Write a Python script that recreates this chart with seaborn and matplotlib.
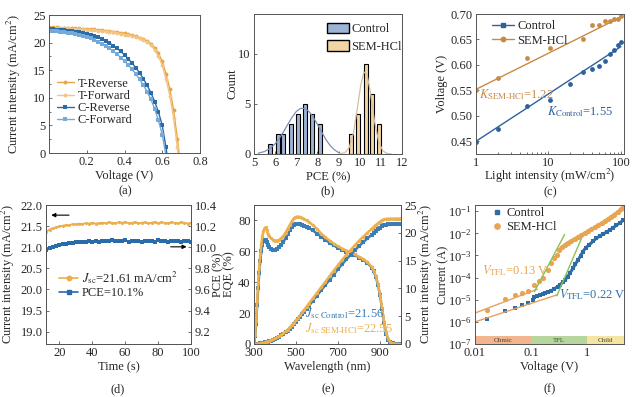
import numpy as np
import pandas as pd
import matplotlib
matplotlib.use("Agg")
import matplotlib.pyplot as plt
from matplotlib.lines import Line2D
from matplotlib.patches import Patch
from matplotlib.ticker import AutoMinorLocator
import seaborn as sns

sns.set_theme(style="ticks")
plt.rcParams["font.family"] = ["Liberation Serif", "DejaVu Serif"]
plt.rcParams["mathtext.fontset"] = "stix"
FS = 9
plt.rcParams["font.size"] = FS
plt.rcParams["axes.labelsize"] = FS
plt.rcParams["xtick.labelsize"] = FS
plt.rcParams["ytick.labelsize"] = FS
plt.rcParams["xtick.direction"] = "in"
plt.rcParams["ytick.direction"] = "in"
plt.rcParams["axes.edgecolor"] = "#555555"
plt.rcParams["axes.linewidth"] = 0.7

# ---- (a) J-V curves
volt = [0.00, 0.02, 0.04, 0.06, 0.08, 0.10, 0.12, 0.14, 0.16, 0.18, 0.20, 0.22, 0.24, 0.26, 0.28,
        0.30, 0.32, 0.34, 0.36, 0.38, 0.40, 0.42, 0.44, 0.46, 0.48, 0.50, 0.52, 0.54, 0.56, 0.58,
        0.60, 0.62, 0.64, 0.66, 0.68, 0.70]
t_rev = [22.80, 22.78, 22.75, 22.72, 22.70, 22.67, 22.63, 22.60, 22.56, 22.52, 22.48, 22.44, 22.38,
         22.32, 22.25, 22.18, 22.10, 22.00, 21.90, 21.78, 21.65, 21.50, 21.33, 21.14, 20.92, 20.66,
         20.30, 19.80, 19.10, 18.10, 16.60, 14.30, 11.60, 7.80, 2.60, -3.50]
t_fwd = [22.70, 22.68, 22.65, 22.62, 22.59, 22.56, 22.52, 22.48, 22.44, 22.40, 22.35, 22.30, 22.24,
         22.17, 22.10, 22.02, 21.93, 21.83, 21.72, 21.60, 21.46, 21.31, 21.14, 20.95, 20.75, 20.48,
         20.10, 19.50, 18.70, 17.50, 15.90, 13.40, 10.40, 6.40, 1.00, -5.00]
c_rev = [22.45, 22.40, 22.35, 22.30, 22.24, 22.17, 22.10, 22.00, 21.90, 21.78, 21.63, 21.45, 21.23,
         20.97, 20.67, 20.32, 19.92, 19.47, 18.97, 18.40, 17.77, 17.07, 16.30, 15.45, 14.50, 13.45,
         12.25, 10.90, 9.30, 7.40, 5.00, 1.00, -4.00, None, None, None]
c_fwd = [22.15, 22.10, 22.03, 21.96, 21.88, 21.79, 21.68, 21.55, 21.40, 21.22, 21.00, 20.75, 20.47,
         20.15, 19.80, 19.40, 18.95, 18.45, 17.90, 17.30, 16.65, 15.93, 15.15, 14.30, 13.35, 12.30,
         11.10, 9.70, 8.00, 5.90, 3.30, -0.50, None, None, None, None]

# ---- (b) PCE histogram + gaussian fits
ctrl_pce = [5.76, 6.14, 6.39, 6.77, 7.10, 7.42, 7.75, 8.10]
ctrl_cnt = [1, 2, 2, 3, 4, 5, 4, 3]
sem_pce = [9.59, 9.92, 10.28, 10.57, 10.93]
sem_cnt = [2, 4, 9, 6, 3]
ctrl_fit_x = [5.2, 5.5, 5.8, 6.0, 6.2, 6.4, 6.6, 6.8, 7.0, 7.2, 7.4, 7.6, 7.8, 8.0, 8.2, 8.4, 8.6, 8.8, 9.0]
ctrl_fit_y = [0.08, 0.25, 0.62, 1.02, 1.57, 2.24, 2.97, 3.68, 4.25, 4.56, 4.56, 4.25, 3.68, 2.97,
              2.20, 1.45, 0.85, 0.42, 0.15]
sem_fit_x = [9.0, 9.3, 9.5, 9.7, 9.9, 10.05, 10.2, 10.35, 10.5, 10.7, 10.9, 11.1, 11.3, 11.5]
sem_fit_y = [0.02, 0.13, 0.63, 2.07, 4.73, 6.90, 8.20, 7.93, 6.23, 3.28, 1.19, 0.30, 0.05, 0.0]

# ---- (c) Voc vs light intensity
light = [1, 2, 5, 10.5, 20, 30, 40, 50, 60, 70, 80, 90, 100]
voc_ctrl = [0.449, 0.474, 0.519, 0.532, 0.562, 0.586, 0.591, 0.598, 0.607, 0.622, 0.630, 0.639, 0.645]
voc_sem = [0.551, 0.574, 0.613, 0.633, None, 0.651, 0.678, 0.679, 0.686, 0.687, 0.690, 0.690, 0.697]
fit_light = [1, 100]
fit_ctrl = [0.450, 0.636]
fit_sem = [0.552, 0.694]

# ---- (d) stabilized output
time_s = [10, 12, 14, 16, 18, 20, 22, 24, 26, 28, 30, 32, 34, 36, 38, 40, 42, 44, 46, 48, 50, 52, 54,
          56, 58, 60, 62, 64, 66, 68, 70, 72, 74, 76, 78, 80, 82, 84, 86, 88, 90, 92, 94, 96, 98, 100]
jsc_t = [21.30, 21.37, 21.42, 21.45, 21.47, 21.50, 21.51, 21.53, 21.52, 21.55, 21.54, 21.56, 21.55,
         21.57, 21.56, 21.58, 21.56, 21.57, 21.58, 21.57, 21.59, 21.58, 21.57, 21.59, 21.58, 21.60,
         21.57, 21.58, 21.59, 21.57, 21.58, 21.59, 21.57, 21.58, 21.60, 21.57, 21.59, 21.58, 21.57,
         21.59, 21.58, 21.57, 21.59, 21.58, 21.56, 21.58]
pce_t = [9.95, 9.97, 9.99, 10.00, 10.01, 10.02, 10.03, 10.03, 10.04, 10.04, 10.045, 10.05, 10.045,
         10.05, 10.055, 10.05, 10.055, 10.05, 10.06, 10.055, 10.06, 10.065, 10.055, 10.06, 10.055,
         10.065, 10.05, 10.06, 10.055, 10.06, 10.05, 10.06, 10.055, 10.06, 10.05, 10.065, 10.055,
         10.06, 10.05, 10.06, 10.055, 10.06, 10.05, 10.055, 10.06, 10.05]

# ---- (e) EQE + integrated Jsc
wl = [300, 305, 310, 315, 320, 325, 330, 335, 340, 345, 350, 355, 360, 365, 370,
      380, 390, 400, 410, 420, 430, 440, 450, 460, 470, 480, 490, 500, 510, 520, 530, 540, 550, 560,
      580, 600, 620, 640, 660, 680, 700, 720, 740, 760, 780, 800, 820, 840,
      860,
      870, 880, 890, 900, 910, 920, 930, 940, 950, 960, 970, 980, 990, 1000]
eqe_sem = [1, 6, 15, 28, 40, 50, 58, 65, 70, 73, 75, 75.5, 74, 71.5, 70,
           68.5, 67.5, 67, 67, 67.5, 68.5, 70, 72, 74.5, 77, 79.5, 81.5, 82.3, 82.5, 82.2, 81.6, 80.8, 80, 79,
           77, 74.5, 71.5, 69, 67, 65, 63.3, 61.8, 60.5, 59.3, 58, 56.5, 55, 53,
           50,
           47.5, 44, 39, 32, 23, 14, 7, 3, 1.2, 0.5, 0.2, 0.1, 0.05, 0]
eqe_ctrl = [1, 5, 13, 25, 36, 46, 54, 60, 64, 66.5, 67.5, 67.5, 66, 64, 62.5,
            61.5, 61, 61, 61.5, 62.5, 64, 66, 68.5, 71, 73.5, 75.5, 77, 77.8, 78, 77.7, 77.2, 76.6, 76, 75.2,
            73.5, 71.5, 69.5, 67.5, 65.5, 63.8, 62.2, 60.8, 59.6, 58.6, 57.5, 56, 54.5, 52.5,
            49.5,
            47, 43.5, 38.5, 31.5, 22.5, 13.5, 6.5, 2.8, 1.1, 0.5, 0.2, 0.1, 0.05, 0]
jint_sem = [0, 0.01, 0.02, 0.04, 0.06, 0.09, 0.12, 0.16, 0.2, 0.25, 0.3, 0.36, 0.42, 0.48, 0.55,
            0.68, 0.83, 1.0, 1.2, 1.42, 1.67, 1.95, 2.26, 2.6, 2.97, 3.37, 3.8, 4.25, 4.72, 5.2, 5.7, 6.2, 6.7, 7.2,
            8.2, 9.2, 10.2, 11.2, 12.2, 13.2, 14.2, 15.15, 16.05, 16.9, 17.75, 18.55, 19.3, 20.0,
            20.7,
            21.05, 21.4, 21.7, 22.0, 22.25, 22.42, 22.5, 22.54, 22.55, 22.55, 22.55, 22.55, 22.55, 22.55]
jint_ctrl = [0, 0.01, 0.02, 0.04, 0.06, 0.08, 0.11, 0.14, 0.18, 0.22, 0.27, 0.32, 0.38, 0.44, 0.5,
             0.62, 0.76, 0.92, 1.1, 1.3, 1.53, 1.79, 2.08, 2.4, 2.75, 3.13, 3.53, 3.96, 4.41, 4.87, 5.35, 5.83, 6.31, 6.79,
             7.75, 8.7, 9.65, 10.6, 11.55, 12.5, 13.45, 14.35, 15.22, 16.05, 16.85, 17.6, 18.3, 18.98,
             19.65,
             19.98, 20.3, 20.6, 20.9, 21.15, 21.35, 21.48, 21.53, 21.55, 21.56, 21.56, 21.56, 21.56, 21.56]

# ---- (f) SCLC dark I-V
ctrl_v = [0.0167, 0.0346, 0.052, 0.069, 0.087, 0.107, 0.115, 0.13, 0.145, 0.162, 0.18, 0.2, 0.229,
          0.26, 0.30, 0.33, 0.37, 0.41, 0.45, 0.5, 0.56, 0.62, 0.69, 0.77, 0.85, 0.95, 1.11, 1.28,
          1.47, 1.7, 1.94, 2.25, 2.56, 2.95, 3.37, 3.9, 4.5]
ctrl_i = [1.4e-6, 3.2e-6, 4.3e-6, 6.0e-6, 7.4e-6, 1.0e-5, 1.36e-5, 1.5e-5, 1.65e-5, 1.8e-5, 2.1e-5,
          2.3e-5, 2.5e-5, 3.1e-5, 3.9e-5, 4.8e-5, 6e-5, 8e-5, 1.1e-4, 1.6e-4, 2.6e-4, 4e-4, 6.1e-4,
          9.5e-4, 1.5e-3, 2.2e-3, 3.1e-3, 4.3e-3, 5.9e-3, 7.5e-3, 9.2e-3, 1.15e-2, 1.4e-2, 1.8e-2,
          2.3e-2, 3.0e-2, 3.9e-2]
sem_v = [0.0162, 0.0346, 0.052, 0.069, 0.087, 0.115, 0.14, 0.167, 0.20, 0.23, 0.26, 0.29, 0.32, 0.36,
         0.40, 0.45, 0.52, 0.6, 0.69, 0.8, 0.91, 1.05, 1.2, 1.4, 1.6, 1.85, 2.1, 2.4, 2.7, 3.1, 3.6,
         4.1, 4.6]
sem_i = [3.4e-6, 1.07e-5, 1.6e-5, 2.0e-5, 2.6e-5, 4.6e-5, 7e-5, 1e-4, 2.2e-4, 4.4e-4, 7.3e-4, 1.1e-3,
         1.75e-3, 2.3e-3, 2.9e-3, 3.6e-3, 4.4e-3, 5.5e-3, 6.7e-3, 8.3e-3, 1.0e-2, 1.22e-2, 1.5e-2,
         1.85e-2, 2.3e-2, 2.85e-2, 3.5e-2, 4.4e-2, 5.5e-2, 7.0e-2, 9.3e-2, 1.25e-1, 1.7e-1]
sem_ohm_v, sem_ohm_i = [0.01, 0.13], [2.5e-6, 3.0e-5]
ctrl_ohm_v, ctrl_ohm_i = [0.01, 0.30], [1.0e-6, 1.7e-5]
sem_tfl_v, sem_tfl_i = [0.115, 0.40], [2.3e-5, 8.9e-3]
ctrl_tfl_v, ctrl_tfl_i = [0.29, 0.80], [1.5e-5, 5.9e-3]
regions = ["Ohmic", "TFL", "Child"]
region_edges = [0.01, 0.1, 1.0, 4.6]

ORANGE = "#E9A540"
ORANGE_L = "#F0C586"
BLUE = "#2A6BAA"
BLUE_L = "#74A9D8"

W, H = 640, 397
fig = plt.figure(figsize=(6.4, 3.97), dpi=100)


def add_ax(l, r, t, b):
    return fig.add_axes([l / W, 1 - b / H, (r - l) / W, (b - t) / H])


leg_kw = dict(frameon=False, labelspacing=0.2, handletextpad=0.3, fontsize=FS, borderaxespad=0.2)

# (a)
ax = add_ax(49, 200, 15, 153)
jv = pd.DataFrame({"V": volt, "T-Reverse": t_rev, "T-Forward": t_fwd,
                   "C-Reverse": c_rev, "C-Forward": c_fwd}).astype(float)
styles = [("T-Reverse", ORANGE, "o"), ("T-Forward", ORANGE_L, "o"),
          ("C-Reverse", BLUE, "s"), ("C-Forward", BLUE_L, "s")]
for name, col, mk in styles:
    sub = jv[["V", name]].dropna()
    sns.lineplot(x=sub["V"], y=sub[name], ax=ax, color=col, marker=mk, markersize=2.8,
                 markeredgewidth=0, lw=1.0, label=name, sort=False)
ax.set_xlim(0, 0.8)
ax.set_ylim(0, 25)
ax.set_xticks([0.2, 0.4, 0.6, 0.8])
ax.set_yticks([0, 5, 10, 15, 20, 25])
ax.yaxis.set_minor_locator(AutoMinorLocator(2))
ax.set_xlabel("Voltage (V)", labelpad=1)
ax.set_ylabel("Current intensity (mA/cm$^2$)")
ax.yaxis.set_label_coords(-0.17, 0.5)
ax.legend(loc="upper left", bbox_to_anchor=(0.0, 0.6), handlelength=1.4,
          **dict(leg_kw, labelspacing=0.02))

# (b)
ax = add_ax(254, 402, 14, 154)
ax.bar(ctrl_pce, ctrl_cnt, width=0.19, color="#9DB3D6", edgecolor="black", linewidth=0.8)
ax.bar(sem_pce, sem_cnt, width=0.19, color="#F3D5A5", edgecolor="black", linewidth=0.8)
sns.lineplot(x=ctrl_fit_x, y=ctrl_fit_y, ax=ax, color="#7F8FB5", lw=0.9)
sns.lineplot(x=sem_fit_x, y=sem_fit_y, ax=ax, color="#D5BF9F", lw=0.9)
ax.set_xlim(5, 12)
ax.set_ylim(0, 14)
ax.set_xticks(range(5, 13))
ax.set_yticks([0, 5, 10])
ax.set_xlabel("PCE (%)", labelpad=1)
ax.set_ylabel("Count")
ax.yaxis.set_label_coords(-0.105, 0.5)
ax.legend(handles=[Patch(facecolor="#9DB3D6", edgecolor="black", label="Control"),
                   Patch(facecolor="#F3D5A5", edgecolor="black", label="SEM-HCl")],
          loc="upper left", bbox_to_anchor=(0.44, 0.99), handlelength=1.8, handleheight=0.9,
          **dict(leg_kw, labelspacing=0.4, handletextpad=0.2))

# (c)
ax = add_ax(476, 624, 14, 154)
C_BLUE, C_OR = "#2F609E", "#C98A45"
sns.scatterplot(x=light, y=voc_ctrl, ax=ax, color=C_BLUE, marker="o", s=12, linewidth=0)
sns.scatterplot(x=light, y=voc_sem, ax=ax, color=C_OR, marker="o", s=12, linewidth=0)
sns.lineplot(x=fit_light, y=fit_ctrl, ax=ax, color=C_BLUE, lw=1.0)
sns.lineplot(x=fit_light, y=fit_sem, ax=ax, color=C_OR, lw=1.0)
ax.set_xscale("log")
ax.set_xlim(1, 110)
ax.set_ylim(0.425, 0.70)
ax.set_xticks([1, 10, 100])
ax.set_xticklabels(["1", "10", "100"])
ax.set_yticks([0.45, 0.50, 0.55, 0.60, 0.65, 0.70])
ax.set_yticklabels(["0.45", "0.50", "0.55", "0.60", "0.65", "0.70"])
ax.set_xlabel("Light intensity (mW/cm$^2$)", labelpad=-1.5)
ax.set_ylabel("Voltage (V)")
ax.yaxis.set_label_coords(-0.19, 0.5)
ax.text(1.1, 0.541, "$K_{\\mathrm{SEM\u2010HCl}}$=1.22", color=C_OR, fontsize=FS, va="center")
ax.text(9.6, 0.508, r"$K_{\mathrm{Control}}$=1.55", color=C_BLUE, fontsize=FS, va="center")
ax.legend(handles=[Line2D([], [], color=C_BLUE, marker="s", ms=3.2, lw=1.0, label="Control"),
                   Line2D([], [], color=C_OR, marker="o", ms=3.2, lw=1.0, label="SEM-HCl")],
          loc="upper left", bbox_to_anchor=(0.06, 1.01), handlelength=1.7, **leg_kw)

# (d)
ax = add_ax(46, 191, 205, 344)
ax2 = ax.twinx()
D_OR, D_BLUE = "#EBAE4C", "#2A6BAA"
sns.lineplot(x=time_s, y=jsc_t, ax=ax, color=D_OR, marker="o", markersize=2.2,
             markeredgewidth=0, lw=1.3)
sns.lineplot(x=time_s, y=pce_t, ax=ax2, color=D_BLUE, marker="s", markersize=2.2,
             markeredgewidth=0, lw=1.3)
ax.set_xlim(11.8, 100)
ax.set_ylim(18.71, 22.0)
ax2.set_ylim(9.084, 10.4)
ax.set_xticks([20, 40, 60, 80, 100])
ax.set_yticks([19.0, 19.5, 20.0, 20.5, 21.0, 21.5, 22.0])
ax.set_yticklabels(["19.0", "19.5", "20.0", "20.5", "21.0", "21.5", "22.0"])
ax2.set_yticks([9.2, 9.4, 9.6, 9.8, 10.0, 10.2, 10.4])
ax2.set_yticklabels(["9.2", "9.4", "9.6", "9.8", "10.0", "10.2", "10.4"])
ax.set_xlabel("Time (s)", labelpad=1)
ax.set_ylabel("Current intensity (mA/cm$^2$)")
ax.yaxis.set_label_coords(-0.2, 0.5)
ax2.set_ylabel("PCE (%)")
ax2.yaxis.set_label_coords(1.145, 0.5)
ax.annotate("", xy=(13.3, 21.76), xytext=(27.5, 21.76),
            arrowprops=dict(arrowstyle="-|>", color="black", lw=0.8, mutation_scale=6))
ax.annotate("", xy=(99.0, 21.01), xytext=(86.0, 21.01),
            arrowprops=dict(arrowstyle="-|>", color="black", lw=0.8, mutation_scale=6))
ax.legend(handles=[Line2D([], [], color=D_OR, marker="o", ms=3.2, lw=1.2,
                          label=r"$J_{\mathrm{sc}}$=21.61 mA/cm$^2$"),
                   Line2D([], [], color=D_BLUE, marker="s", ms=3.2, lw=1.2, label="PCE=10.1%")],
          loc="upper left", bbox_to_anchor=(0.04, 0.59), handlelength=1.5,
          **dict(leg_kw, labelspacing=0.05))

# (e)
ax = add_ax(254, 401, 205, 344)
ax2 = ax.twinx()
E_OR, E_BLUE = "#EDB04C", "#3A7DB8"
sns.lineplot(x=wl, y=eqe_ctrl, ax=ax, color=E_BLUE, marker="s", markersize=2.4,
             markeredgewidth=0, lw=1.8)
sns.lineplot(x=wl, y=eqe_sem, ax=ax, color=E_OR, marker="o", markersize=2.4,
             markeredgewidth=0, lw=1.8)
sns.lineplot(x=wl, y=jint_ctrl, ax=ax2, color=E_BLUE, marker="s", markersize=2.4,
             markeredgewidth=0, lw=1.8)
sns.lineplot(x=wl, y=jint_sem, ax=ax2, color=E_OR, marker="o", markersize=2.4,
             markeredgewidth=0, lw=1.8)
ax.set_xlim(300, 1000)
ax.set_ylim(0, 90)
ax2.set_ylim(0, 25)
ax.set_xticks([300, 500, 700, 900])
ax.set_yticks([0, 20, 40, 60, 80])
ax2.set_yticks([0, 5, 10, 15, 20, 25])
ax.set_xlabel("Wavelength (nm)", labelpad=1)
ax.set_ylabel("EQE (%)")
ax.yaxis.set_label_coords(-0.125, 0.5)
ax2.set_ylabel("Current intensity (mA/cm$^2$)")
ax2.yaxis.set_label_coords(1.11, 0.5)
ax.text(542, 19.8, r"$J_{\mathrm{sc\ Control}}$=21.56", color=E_BLUE, fontsize=FS, va="center")
ax.text(542, 10.1, "$J_{\\mathrm{sc\\ SEM\u2010HCl}}$=22.55", color=E_OR, fontsize=FS, va="center")

# (f)
ax = add_ax(475, 624, 205, 344)
F_OR, F_BLUE = "#E9A450", "#2D6DA6"
band_cols = ["#F2B58E", "#B7D69C", "#F5E4A2"]
for name, lo, hi, col in zip(regions, region_edges[:-1], region_edges[1:], band_cols):
    ax.axvspan(lo, hi, ymin=0, ymax=0.055, color=col, lw=0)
    ax.text(np.sqrt(lo * hi), 1.45e-7, name, fontsize=5, ha="center", va="center", color="#444444")
sns.lineplot(x=ctrl_v[6:], y=ctrl_i[6:], ax=ax, color=F_BLUE, lw=2.2)
sns.lineplot(x=sem_v[12:], y=sem_i[12:], ax=ax, color=F_OR, lw=2.6)
sns.scatterplot(x=ctrl_v, y=ctrl_i, ax=ax, color=F_BLUE, marker="s", s=9, linewidth=0)
sns.scatterplot(x=sem_v, y=sem_i, ax=ax, color=F_OR, marker="o", s=14, linewidth=0)
sns.lineplot(x=sem_ohm_v, y=sem_ohm_i, ax=ax, color="#E8A060", lw=1.0)
sns.lineplot(x=ctrl_ohm_v, y=ctrl_ohm_i, ax=ax, color="#E8A060", lw=1.0)
sns.lineplot(x=sem_tfl_v, y=sem_tfl_i, ax=ax, color="#8CC055", lw=1.0)
sns.lineplot(x=ctrl_tfl_v, y=ctrl_tfl_i, ax=ax, color="#8CC055", lw=1.0)
ax.set_xscale("log")
ax.set_yscale("log")
ax.set_xlim(0.01, 4.6)
ax.set_ylim(1e-7, 0.19)
ax.set_xticks([0.01, 0.1, 1])
ax.set_xticklabels(["0.01", "0.1", "1"])
ax.set_yticks([1e-7, 1e-6, 1e-5, 1e-4, 1e-3, 1e-2, 1e-1])
ax.set_xlabel("Voltage (V)", labelpad=1)
ax.set_ylabel("Current (A)")
ax.yaxis.set_label_coords(-0.17, 0.5)
ax.text(0.0135, 2.1e-4, r"$V_{\mathrm{TFL}}$=0.13 V", color=F_OR, fontsize=FS, va="center")
ax.text(0.32, 1.74e-5, r"$V_{\mathrm{TFL}}$=0.22 V", color=F_BLUE, fontsize=FS, va="center")
ax.legend(handles=[Line2D([], [], color=F_BLUE, marker="s", ms=3.2, lw=0, label="Control"),
                   Line2D([], [], color=F_OR, marker="o", ms=3.8, lw=0, label="SEM-HCl")],
          loc="upper left", bbox_to_anchor=(0.06, 1.04), handlelength=0.9, **leg_kw)

for a in fig.axes:
    a.tick_params(which="both", direction="in", length=2.5, width=0.6, pad=2.5, color="#555555",
                  labelsize=FS)
    a.tick_params(which="minor", length=1.5)

for x, y, s in [(125, 191, "(a)"), (328, 191, "(b)"), (550, 192, "(c)"),
                (118, 389, "(d)"), (328, 389, "(e)"), (550, 389, "(f)")]:
    fig.text(x / W, 1 - y / H, s, ha="center", va="center", fontsize=FS)

fig.savefig("out.png", dpi=100)
